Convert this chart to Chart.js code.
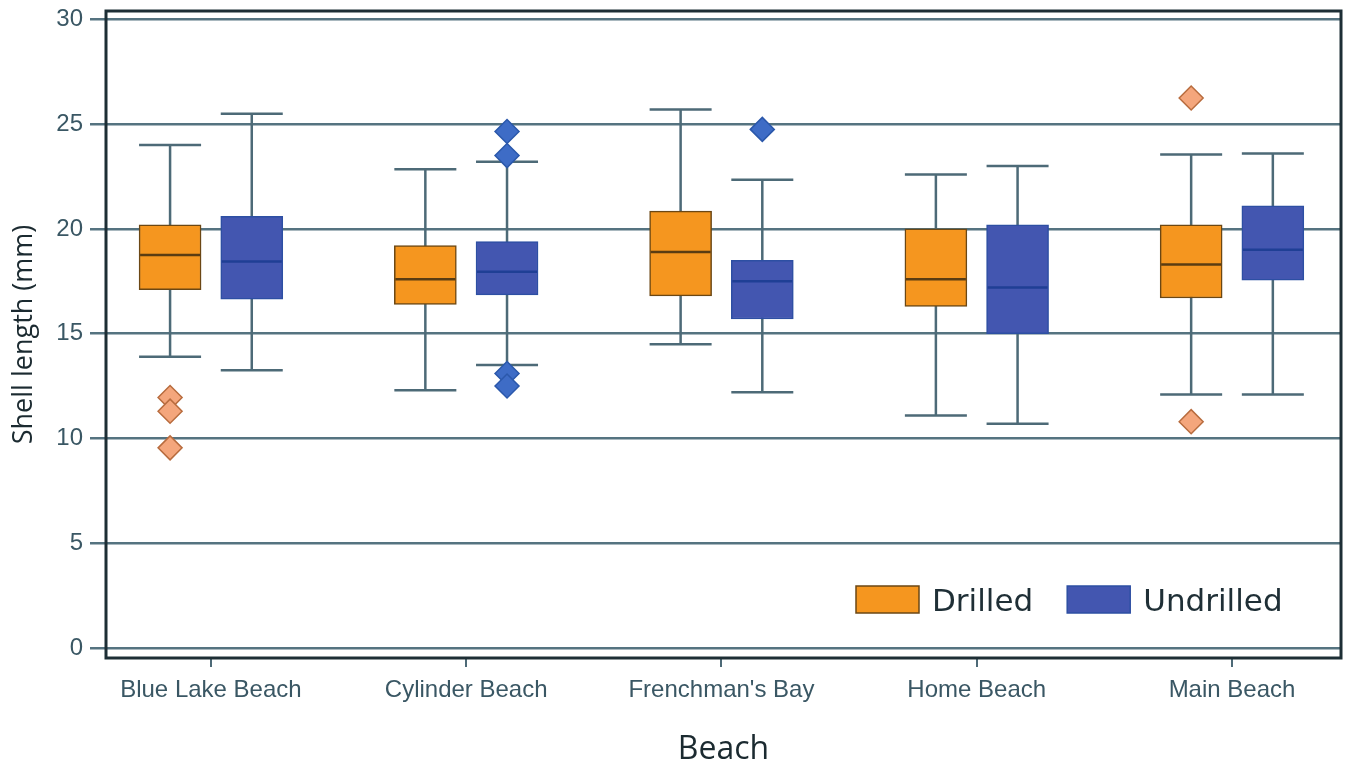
<!DOCTYPE html>
<html>
<head>
<meta charset="utf-8">
<script src="https://cdn.jsdelivr.net/npm/chart.js@4.4.1/dist/chart.umd.min.js"></script>
<style>
  html, body { margin: 0; padding: 0; background: #fff; }
  #wrap { width: 1347px; height: 767px; }
</style>
</head>
<body>
<div id="wrap"><canvas id="shellChart" width="1347" height="767"></canvas></div>
<script>
// --- data ---
const categories = ["Blue Lake Beach", "Cylinder Beach", "Frenchman's Bay", "Home Beach", "Main Beach"];
const yTicks = [0, 5, 10, 15, 20, 25, 30];

const drilledMin = [13.9, 12.3, 14.5, 11.1, 12.1];
const drilledQ1 = [17.1, 16.4, 16.8, 16.3, 16.7];
const drilledMedian = [18.75, 17.6, 18.9, 17.6, 18.3];
const drilledQ3 = [20.2, 19.2, 20.85, 20.0, 20.2];
const drilledMax = [24.0, 22.85, 25.7, 22.6, 23.55];
const drilledOutliers = [[11.95, 11.3, 9.55], [], [], [], [26.25, 10.8]];

const undrilledMin = [13.25, 13.5, 12.2, 10.7, 12.1];
const undrilledQ1 = [16.65, 16.85, 15.7, 15.0, 17.55];
const undrilledMedian = [18.45, 17.95, 17.5, 17.2, 19.0];
const undrilledQ3 = [20.6, 19.4, 18.5, 20.2, 21.1];
const undrilledMax = [25.5, 23.2, 22.35, 23.0, 23.6];
const undrilledOutliers = [[], [24.65, 23.5, 13.1, 12.5], [24.75], [], []];

// --- styling ---
const BOX_W = 62;
const SHIFT = 0.16;
const WHISKER = '#4d6a77';
const TICK_TXT = '#3a5764';

const series = [
    { label: 'Drilled', shift: -SHIFT, min: drilledMin, q1: drilledQ1, med: drilledMedian, q3: drilledQ3, max: drilledMax,
      fill: '#f5961f', edge: '#6b4714', medColor: '#5a3c12' },
    { label: 'Undrilled', shift: SHIFT, min: undrilledMin, q1: undrilledQ1, med: undrilledMedian, q3: undrilledQ3, max: undrilledMax,
      fill: '#4356b0', edge: '#2d4fa3', medColor: '#1f3f95' }
];

function boxData(s) {
    return categories.map((c, i) => ({ x: i + s.shift, y: [s.q1[i], s.q3[i]] }));
}
function outlierData(list, shift) {
    return list.flatMap((vals, i) => vals.map(v => ({ x: i + shift, y: v })));
}

// whiskers under the boxes, medians on top
const boxParts = {
    id: 'boxParts',
    beforeDatasetsDraw(chart) {
        const { ctx, scales: { x, y } } = chart;
        ctx.save();
        ctx.strokeStyle = WHISKER;
        ctx.lineWidth = 2.5;
        series.forEach(s => {
            s.min.forEach((lo, i) => {
                const cx = x.getPixelForValue(i + s.shift);
                const yLo = y.getPixelForValue(lo);
                const yHi = y.getPixelForValue(s.max[i]);
                ctx.beginPath();
                ctx.moveTo(cx, yLo); ctx.lineTo(cx, yHi);
                ctx.moveTo(cx - BOX_W / 2, yLo); ctx.lineTo(cx + BOX_W / 2, yLo);
                ctx.moveTo(cx - BOX_W / 2, yHi); ctx.lineTo(cx + BOX_W / 2, yHi);
                ctx.stroke();
            });
        });
        ctx.restore();
    },
    afterDatasetsDraw(chart) {
        const { ctx, scales: { x, y } } = chart;
        ctx.save();
        ctx.lineWidth = 2.5;
        series.forEach(s => {
            ctx.strokeStyle = s.medColor;
            s.med.forEach((m, i) => {
                const cx = x.getPixelForValue(i + s.shift);
                const py = y.getPixelForValue(m);
                ctx.beginPath();
                ctx.moveTo(cx - BOX_W / 2 + 1, py); ctx.lineTo(cx + BOX_W / 2 - 1, py);
                ctx.stroke();
            });
        });
        ctx.restore();
    },
    afterDraw(chart) {
        const { ctx, chartArea: a } = chart;
        ctx.save();
        // plot frame
        ctx.strokeStyle = '#1d2e35';
        ctx.lineWidth = 3;
        ctx.strokeRect(a.left, a.top, a.right - a.left, a.bottom - a.top);

        // legend inside the plot, bottom right
        ctx.font = '31px "DejaVu Sans", Verdana, sans-serif';
        ctx.textBaseline = 'alphabetic';
        let lx = a.right - 485;
        const ly = a.bottom - 72;
        series.forEach(s => {
            ctx.fillStyle = s.fill;
            ctx.fillRect(lx, ly, 63, 27);
            ctx.strokeStyle = s.edge;
            ctx.lineWidth = 1.5;
            ctx.strokeRect(lx, ly, 63, 27);
            ctx.fillStyle = '#1f2f36';
            ctx.fillText(s.label, lx + 76, ly + 25);
            lx += 76 + ctx.measureText(s.label).width + 34;
        });
        ctx.restore();
    }
};

document.addEventListener('DOMContentLoaded', () => {
    const ctx = document.getElementById('shellChart').getContext('2d');

    new Chart(ctx, {
        type: 'bar',
        data: {
            datasets: [
                { label: 'Drilled', data: boxData(series[0]), backgroundColor: series[0].fill,
                  borderColor: series[0].edge, borderWidth: 1.5, borderSkipped: false, barThickness: BOX_W, grouped: false },
                { label: 'Undrilled', data: boxData(series[1]), backgroundColor: series[1].fill,
                  borderColor: series[1].edge, borderWidth: 1.5, borderSkipped: false, barThickness: BOX_W, grouped: false },
                { type: 'scatter', label: 'Drilled outliers', data: outlierData(drilledOutliers, -SHIFT),
                  pointStyle: 'rectRot', pointRadius: 12, backgroundColor: '#f4a67c', borderColor: '#b86c3e', borderWidth: 1.5 },
                { type: 'scatter', label: 'Undrilled outliers', data: outlierData(undrilledOutliers, SHIFT),
                  pointStyle: 'rectRot', pointRadius: 12, backgroundColor: '#3e6cc6', borderColor: '#2b58ab', borderWidth: 1.5 }
            ]
        },
        options: {
            responsive: false,
            animation: false,
            layout: { autoPadding: false, padding: { left: 0, top: 11, right: 6, bottom: 0 } },
            plugins: {
                legend: { display: false },
                tooltip: { enabled: false }
            },
            scales: {
                x: {
                    type: 'linear',
                    offset: false,
                    min: -0.411,
                    max: 4.427,
                    grid: { offset: false, drawOnChartArea: false, color: WHISKER, lineWidth: 2, tickLength: 9 },
                    border: { display: false },
                    afterBuildTicks: scale => { scale.ticks = categories.map((c, i) => ({ value: i })); },
                    ticks: {
                        autoSkip: false,
                        maxRotation: 0,
                        padding: 9,
                        color: TICK_TXT,
                        font: { family: '"Liberation Sans", Arial, sans-serif', size: 24 },
                        callback: v => categories[v] ?? ''
                    },
                    title: {
                        display: true,
                        text: 'Beach',
                        color: '#1b2a30',
                        font: { family: '"Open Sans", sans-serif', size: 32, lineHeight: 1 },
                        padding: { top: 0, bottom: 1 }
                    },
                    afterFit: scale => {
                        scale.height = 109;
                        scale.paddingLeft = 0;
                        scale.paddingRight = 0;
                    }
                },
                y: {
                    min: -0.48,
                    max: 30.4,
                    grid: { color: '#557380', lineWidth: 2.5, tickLength: 16 },
                    border: { display: false },
                    afterBuildTicks: scale => { scale.ticks = yTicks.map(v => ({ value: v })); },
                    ticks: {
                        padding: 7,
                        color: TICK_TXT,
                        font: { family: '"Liberation Sans", Arial, sans-serif', size: 24 }
                    },
                    title: {
                        display: true,
                        text: 'Shell length (mm)',
                        color: '#1b2a30',
                        font: { family: '"Open Sans", sans-serif', size: 27, lineHeight: 1.2 },
                        padding: { top: 8, bottom: 0 }
                    },
                    afterFit: scale => {
                        scale.width = 106;
                        scale.paddingTop = 0;
                        scale.paddingBottom = 0;
                    }
                }
            }
        },
        plugins: [boxParts]
    });
});
</script>
</body>
</html>
